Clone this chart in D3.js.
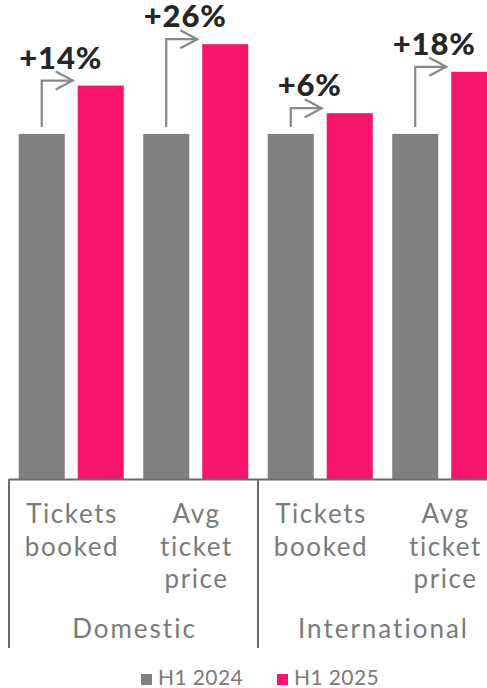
<!DOCTYPE html>
<html>
<head>
<meta charset="utf-8">
<script src="https://cdn.jsdelivr.net/npm/d3@7"></script>
<style>
  html, body { margin: 0; padding: 0; background: #ffffff; }
  svg { display: block; }
  text { font-family: Lato, "Open Sans", sans-serif; }
</style>
</head>
<body>
<svg id="chart" width="487" height="688"></svg>
<script>
// Booking volume and average ticket price, H1 2024 indexed to 100
const groups = ["Domestic", "International"];
const categories = [
  ["Tickets", "booked"],
  ["Avg", "ticket", "price"],
  ["Tickets", "booked"],
  ["Avg", "ticket", "price"]
];
const seriesNames = ["H1 2024", "H1 2025"];
const seriesColors = ["#808080", "#f7146b"];
const h1_2024 = [100, 100, 100, 100];
const h1_2025 = [114, 126, 106, 118];
const changeLabels = ["+14%", "+26%", "+6%", "+18%"];

const svg = d3.select("#chart");
const plotLeft = 9, plotRight = 507, baseY = 479;

const xGroup = d3.scaleBand().domain(groups).range([plotLeft, plotRight]);
const x0 = d3.scaleBand().domain(d3.range(categories.length)).range([plotLeft, plotRight]);
const x1 = d3.scaleBand().domain(seriesNames).range([0, x0.bandwidth()])
  .paddingInner(0.22).paddingOuter(0.165);
const y = d3.scaleLinear().domain([0, 138.8]).range([baseY, 0]);

const color = d3.scaleOrdinal().domain(seriesNames).range(seriesColors);

const rows = categories.map((c, i) => ({ i, values: [h1_2024[i], h1_2025[i]] }));

// bars
const cat = svg.append("g").selectAll("g").data(rows).join("g")
  .attr("transform", d => `translate(${x0(d.i)},0)`);
cat.selectAll("rect")
  .data(d => d.values.map((v, k) => ({ key: seriesNames[k], v })))
  .join("rect")
  .attr("x", d => x1(d.key))
  .attr("y", d => y(d.v))
  .attr("width", x1.bandwidth())
  .attr("height", d => y(0) - y(d.v))
  .attr("fill", d => color(d.key));

// change arrows with percentage labels
const arrowColor = "#888888";
rows.forEach(d => {
  const g = svg.append("g");
  const sx = x0(d.i) + x1(seriesNames[0]) + x1.bandwidth() / 2;
  const ex = x0(d.i) + x1(seriesNames[1]) - 5;
  const sy = y(d.values[0]) - 7;
  const ay = y(d.values[1]) - 5;
  g.append("path")
    .attr("d", `M${sx},${sy} V${ay} H${ex}`)
    .attr("fill", "none").attr("stroke", arrowColor).attr("stroke-width", 2.2);
  g.append("path")
    .attr("d", `M${ex - 17},${ay - 9} L${ex},${ay} L${ex - 17},${ay + 9}`)
    .attr("fill", "none").attr("stroke", arrowColor).attr("stroke-width", 2.2);
  g.append("text")
    .attr("x", sx + 19).attr("y", ay - 12)
    .attr("text-anchor", "middle")
    .attr("font-size", 31).attr("font-weight", 900)
    .attr("letter-spacing", 0.8)
    .attr("fill", "#262626")
    .text(changeLabels[d.i]);
});

// axis lines
const axisColor = "#6b6b6b";
svg.append("line")
  .attr("x1", plotLeft).attr("x2", plotRight)
  .attr("y1", baseY + 0.5).attr("y2", baseY + 0.5)
  .attr("stroke", axisColor).attr("stroke-width", 2);
svg.append("g").selectAll("line")
  .data([...groups.map(gn => xGroup(gn)), plotRight])
  .join("line")
  .attr("x1", d => d).attr("x2", d => d)
  .attr("y1", baseY).attr("y2", 648)
  .attr("stroke", axisColor).attr("stroke-width", 2);

// category labels
const labelColor = "#7a7a7a";
const labelSpacing = 1.6;
svg.append("g").selectAll("text").data(rows).join("text")
  .attr("text-anchor", "middle")
  .attr("font-size", 26).attr("font-weight", 400)
  .attr("letter-spacing", labelSpacing)
  .attr("fill", labelColor)
  .each(function(d) {
    const t = d3.select(this);
    categories[d.i].forEach((line, k) => {
      t.append("tspan")
        .attr("x", x0(d.i) + x0.bandwidth() / 2 + labelSpacing / 2)
        .attr("y", 523 + k * 32.5)
        .text(line);
    });
  });

// group labels
svg.append("g").selectAll("text").data(groups).join("text")
  .attr("x", d => xGroup(d) + xGroup.bandwidth() / 2 + 1)
  .attr("y", 638)
  .attr("text-anchor", "middle")
  .attr("font-size", 26).attr("font-weight", 400)
  .attr("letter-spacing", 2)
  .attr("fill", labelColor)
  .text(d => d);

// legend
const legendX = [141, 277];
const legend = svg.append("g").selectAll("g").data(seriesNames).join("g")
  .attr("transform", (d, i) => `translate(${legendX[i]},674)`);
legend.append("rect")
  .attr("width", 11).attr("height", 11)
  .attr("fill", d => color(d));
legend.append("text")
  .attr("x", 17).attr("y", 11)
  .attr("font-size", 21).attr("font-weight", 400)
  .attr("letter-spacing", 0.4)
  .attr("fill", labelColor)
  .text(d => d);
</script>
</body>
</html>
